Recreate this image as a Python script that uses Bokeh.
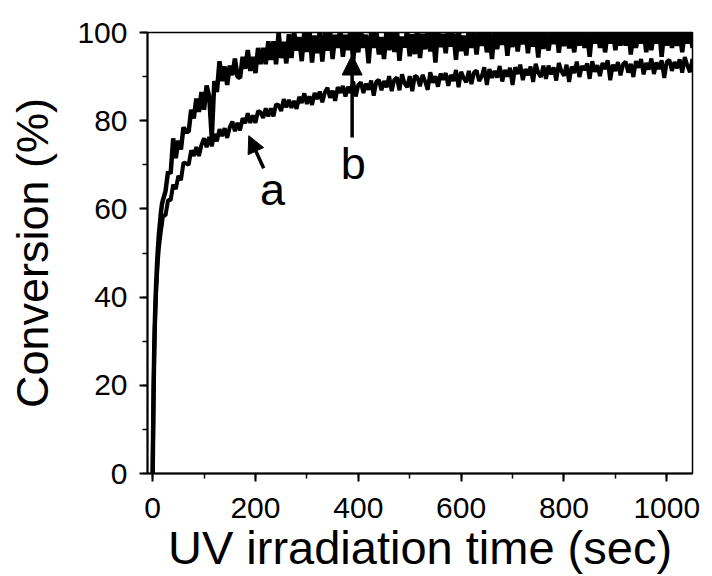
from bokeh.plotting import figure
from bokeh.models import Arrow, NormalHead, Label, SingleIntervalTicker, Range1d
from bokeh.embed import file_html
from bokeh.resources import INLINE

# ---- data ----
t_start = [0, 1, 2, 3, 4, 5, 6, 7, 8, 9, 10, 12, 14, 16, 18]
t_main = list(range(20, 1051, 5))
time_s = t_start + t_main

conv_a = [0, 10, 20, 27, 32, 36, 39, 42, 44, 46, 48, 51, 53, 55, 56.5,
          58.5, 58.5, 62, 62, 65.5, 64.5, 67.5, 66.5, 70.5, 70.3,
          70, 73.3, 72, 74, 72, 74.5, 76, 74, 76.3, 74.2,
          77, 75.3, 78.1, 76.5, 78.3, 76.1, 78.5, 79.8, 77.6, 79.5,
          77.8, 80.6, 79.4, 81.7, 79.5, 81.2, 79.5, 82.2, 81.9, 80.6,
          82.8, 81, 82.8, 81, 83.7, 83.5, 82.2, 84.9, 83, 84.7,
          82.9, 84.5, 82.7, 85.4, 84, 86.2, 83.8, 85.5, 83.6, 86.3,
          84.9, 86.6, 84.2, 86.4, 87.5, 85.2, 86.8, 84.5, 87.6, 86.3,
          87.9, 85.5, 87.7, 86.3, 88.9, 85.5, 88.1, 88.7, 86.3, 88.4,
          87, 89.1, 85.7, 88.8, 89.3, 86.9, 89, 87.6, 90.1, 86.7,
          89.3, 89.8, 86.9, 90.5, 88.5, 87.6, 90.1, 86.7, 90.2, 89.8,
          87.8, 90.4, 88.9, 87, 91, 88.6, 90.1, 87.7, 90.7, 89.3,
          90.8, 87.9, 90.4, 89, 91.5, 87.6, 91.1, 89.7, 88.7, 91.3,
          88.3, 90.9, 91.4, 89, 90, 92.1, 88.1, 91.7, 89.7, 91.3,
          89.8, 92.4, 88.9, 91.5, 90, 92, 88.1, 92.1, 90.6, 92.7,
          89.2, 91.7, 90.3, 92.3, 88.8, 92.9, 90.9, 89.9, 92.5, 89.5,
          92.5, 90.5, 92.1, 89.1, 93.1, 91.2, 90.2, 92.7, 88.8, 92.3,
          90.8, 93.4, 89.9, 92.4, 91.5, 93, 89.5, 93.5, 91.1, 92.6,
          90.1, 93.1, 91.7, 93.7, 89.2, 92.7, 91.3, 93.3, 90.3, 92.8,
          93.4, 90.9, 92.9, 89.9, 93.5, 92, 94, 90.5, 93.1, 91.6,
          94.1, 90.6, 93.2, 91.7, 93.7, 89.7, 93.3, 93.8, 91.3, 93.3,
          91.9, 93.9, 90.9, 94.4, 92.5, 91, 94]

conv_b = [0, 10, 20, 27.5, 33, 37, 40.5, 43.5, 46, 48.5, 50.5, 54, 56.5, 59, 61,
          62, 64, 68.5, 68, 76, 71.5, 75.5, 73.5, 78.5, 77.5,
          77.5, 82.5, 80.5, 85, 82, 86.5, 82.5, 88, 85.5, 76,
          89, 86.5, 93.5, 89, 92.3, 88.1, 92.5, 90.3, 94.1, 90,
          89.7, 94.5, 91.8, 96, 91.3, 94.5, 90.8, 96.5, 92.8, 96.5,
          92.8, 98, 93.8, 98, 92.8, 100, 94.2, 97.9, 93, 99.6,
          94.2, 100.3, 95.9, 99, 93.5, 100.1, 95.6, 100.7, 93.2, 99.3,
          95.3, 100.3, 93.4, 99.9, 95.9, 100.5, 94, 99.5, 96.5, 101,
          94.5, 99.5, 96, 101, 93.5, 100, 95.5, 100.5, 96.5, 99.5,
          93, 100, 96.5, 100.5, 95, 99, 94, 100.5, 96, 100,
          95.6, 100.6, 93.6, 99.1, 96.6, 100.6, 94.6, 99.6, 95.1, 101.1,
          94.2, 99.7, 96.2, 100.7, 95.7, 100.2, 93.2, 100.7, 96.7, 99.7,
          95.3, 100.8, 96.8, 99.8, 93.8, 100.8, 95.8, 99.3, 94.8, 100.8,
          96.5, 100.5, 95, 100, 97, 101, 95.5, 100, 94, 100.5,
          96.2, 100.2, 97.2, 100.7, 94.7, 100.2, 96.7, 101.2, 95.7, 100.2,
          97.3, 100.8, 95.3, 100.3, 96.8, 100.3, 94.3, 100.8, 96.3, 99.8,
          95.9, 100.4, 97.4, 100.9, 95.4, 100.4, 96.9, 100.9, 96.4, 99.9,
          95.5, 100.5, 97, 101, 96.5, 100, 94.5, 100.5, 97.5, 101,
          96.5, 100.5, 95.5, 100, 97.5, 101, 96, 100.5, 97, 100.5,
          97, 101, 95, 100.5, 96.5, 100, 97.5, 101, 95.5, 100.5,
          96, 100.5, 97.5, 101, 94.5, 100.5, 97, 100.5, 96.5, 100,
          97, 100.5, 95.5, 100.5, 97.5, 101, 96.5]

x_label = "UV irradiation time (sec)"
y_label = "Conversion (%)"
FONT = "Liberation Sans"

p = figure(width=712, height=576, output_backend="svg", toolbar_location=None,
           x_range=Range1d(-10, 1050), y_range=Range1d(0, 100),
           min_border_left=147, min_border_right=20, min_border_top=32, min_border_bottom=102)
p.grid.visible = False
p.outline_line_color = "black"
p.outline_line_width = 1.5
p.background_fill_color = "white"
p.border_fill_color = "white"

p.line(time_s, conv_a, line_color="black", line_width=4)
p.line(time_s, conv_b, line_color="black", line_width=4.5)

for ax in (p.xaxis[0], p.yaxis[0]):
    ax.axis_line_width = 2
    ax.major_tick_line_width = 2
    ax.minor_tick_line_width = 1.5
    ax.major_tick_out = 8
    ax.major_tick_in = 0
    ax.minor_tick_out = 5
    ax.minor_tick_in = 0
    ax.major_label_text_font = FONT
    ax.major_label_text_font_size = "30px"
    ax.major_label_text_color = "black"
    ax.axis_label_text_font = FONT
    ax.axis_label_text_font_style = "normal"
    ax.axis_label_text_color = "black"

p.xaxis[0].axis_label_text_font_size = "47px"
p.yaxis[0].axis_label_text_font_size = "45px"
p.xaxis[0].ticker = SingleIntervalTicker(interval=200, num_minor_ticks=2)
p.yaxis[0].ticker = SingleIntervalTicker(interval=20, num_minor_ticks=2)
p.xaxis[0].axis_label = x_label
p.yaxis[0].axis_label = y_label
p.xaxis[0].major_label_standoff = 16
p.xaxis[0].axis_label_standoff = 0
p.yaxis[0].major_label_standoff = 12
p.yaxis[0].axis_label_standoff = 16

# arrows and labels
p.add_layout(Arrow(end=NormalHead(size=17, fill_color="black", line_color="black"),
                   x_start=216, y_start=69.2, x_end=187, y_end=76.6,
                   line_width=3.5, line_color="black"))
p.add_layout(Arrow(end=NormalHead(size=20, fill_color="black", line_color="black"),
                   x_start=388, y_start=76.2, x_end=388, y_end=94.9,
                   line_width=3.5, line_color="black"))
p.add_layout(Label(x=233, y=64.4, text="a", text_align="center", text_baseline="alphabetic",
                   text_font=FONT, text_font_size="45px", text_color="black"))
p.add_layout(Label(x=390, y=70.3, text="b", text_align="center", text_baseline="alphabetic",
                   text_font=FONT, text_font_size="45px", text_color="black"))

open("out.html", "w").write(file_html(p, INLINE))
